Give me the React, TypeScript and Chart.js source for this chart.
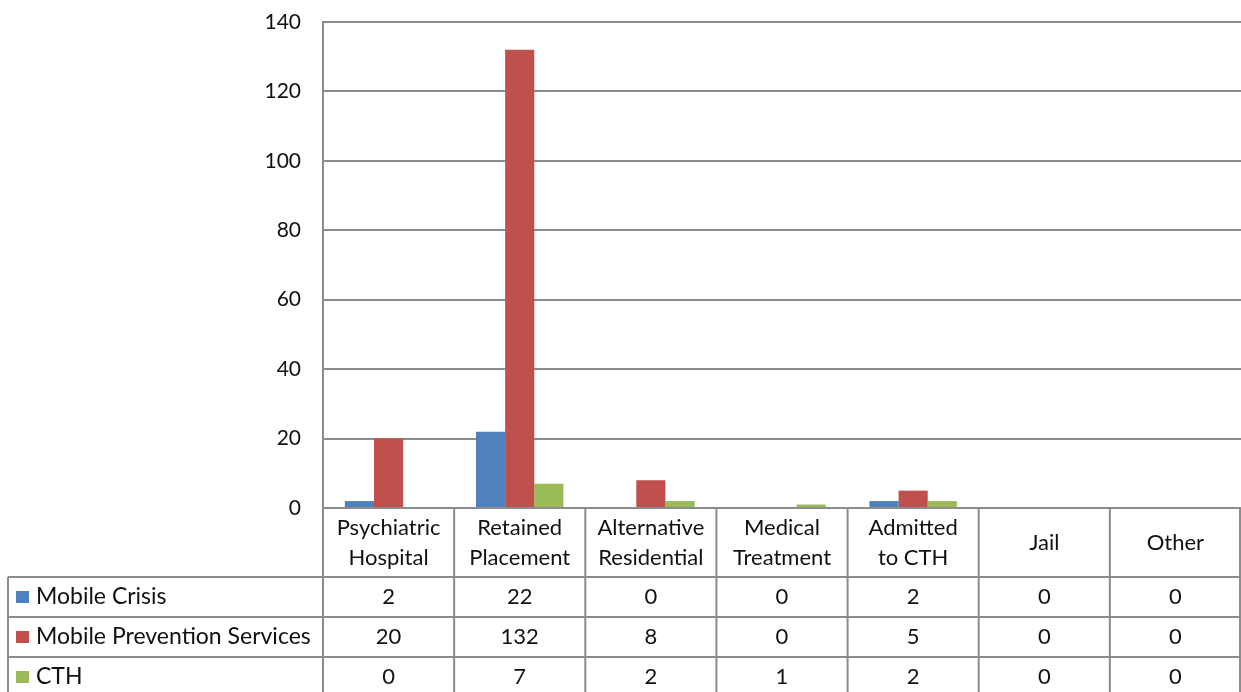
import { useEffect, useRef } from "react";
import { Chart, registerables } from "chart.js";

Chart.register(...registerables);

// Category labels (one entry per line of the header cell)
const categories: string[][] = [
  ["Psychiatric", "Hospital"],
  ["Retained", "Placement"],
  ["Alternative", "Residential"],
  ["Medical", "Treatment"],
  ["Admitted", "to CTH"],
  ["Jail"],
  ["Other"],
];

const seriesNames = ["Mobile Crisis", "Mobile Prevention Services", "CTH"];
const mobileCrisis = [2, 22, 0, 0, 2, 0, 0];
const mobilePrevention = [20, 132, 8, 0, 5, 0, 0];
const cthValues = [0, 7, 2, 1, 2, 0, 0];
const seriesColors = ["#4F81BD", "#C0504D", "#9BBB59"];

const yMax = 140;
const yStep = 20;

const FONT = "Lato, 'Open Sans', sans-serif";
const TICK_SIZE = 21;
const TABLE_SIZE = 22;
const GRID = "#8C8C8C";
const TEXT = "#111111";

const HEADER_H = 69;
const ROW_H = 40;
const LEGEND_LEFT = 8;

// Draws the data table (category header, legend keys and values) under the plot
const dataTablePlugin = {
  id: "dataTable",
  afterDraw(chart: Chart) {
    const { ctx, chartArea } = chart;
    const xScale = chart.scales.x;
    const n = categories.length;
    const left = chartArea.left;
    const right = chartArea.right;
    const top = chartArea.bottom;
    const colW = (right - left) / n;
    const headerBottom = top + HEADER_H;
    const tableBottom = headerBottom + ROW_H * seriesNames.length;

    ctx.save();
    ctx.strokeStyle = GRID;
    ctx.lineWidth = 2;

    // horizontal rules
    ctx.beginPath();
    ctx.moveTo(left, top);
    ctx.lineTo(right, top);
    ctx.moveTo(LEGEND_LEFT, headerBottom);
    ctx.lineTo(right, headerBottom);
    for (let r = 1; r <= seriesNames.length; r++) {
      const y = headerBottom + r * ROW_H;
      ctx.moveTo(LEGEND_LEFT, y);
      ctx.lineTo(right, y);
    }
    // vertical rules at category boundaries
    for (let i = 0; i <= n; i++) {
      const x = i === n ? right - 1 : left + i * colW;
      ctx.moveTo(x, top);
      ctx.lineTo(x, tableBottom);
    }
    ctx.moveTo(LEGEND_LEFT, headerBottom);
    ctx.lineTo(LEGEND_LEFT, tableBottom);
    ctx.stroke();

    ctx.fillStyle = TEXT;
    ctx.font = `${TABLE_SIZE}px ${FONT}`;
    ctx.textBaseline = "middle";
    ctx.textAlign = "center";

    // category header
    const headerMid = top + HEADER_H / 2;
    categories.forEach((lines, i) => {
      const cx = xScale.getPixelForValue(i);
      const lh = 30;
      const startY = headerMid - ((lines.length - 1) * lh) / 2;
      lines.forEach((line, k) => ctx.fillText(line, cx, startY + k * lh));
    });

    // rows: legend key, name, values
    const series = [mobileCrisis, mobilePrevention, cthValues];
    series.forEach((vals, r) => {
      const midY = headerBottom + r * ROW_H + ROW_H / 2;
      ctx.fillStyle = seriesColors[r];
      ctx.fillRect(16, midY - 6, 13, 12);
      ctx.fillStyle = TEXT;
      ctx.textAlign = "left";
      ctx.font = `${TABLE_SIZE + 1}px ${FONT}`;
      ctx.fillText(seriesNames[r], 36, midY);
      ctx.font = `${TABLE_SIZE}px ${FONT}`;
      ctx.textAlign = "center";
      vals.forEach((v, i) => {
        ctx.fillText(String(v), xScale.getPixelForValue(i), midY);
      });
    });
    ctx.restore();
  },
};

export default function App() {
  const canvasRef = useRef<HTMLCanvasElement | null>(null);

  useEffect(() => {
    document.body.style.margin = "0";
    const canvas = canvasRef.current;
    if (!canvas) return;
    const chart = new Chart(canvas, {
      type: "bar",
      data: {
        labels: categories.map((c) => c.join(" ")),
        datasets: [
          { label: seriesNames[0], data: mobileCrisis, backgroundColor: seriesColors[0] },
          { label: seriesNames[1], data: mobilePrevention, backgroundColor: seriesColors[1] },
          { label: seriesNames[2], data: cthValues, backgroundColor: seriesColors[2] },
        ],
      },
      options: {
        animation: false,
        responsive: false,
        maintainAspectRatio: false,
        layout: { padding: { top: 22, right: 0, bottom: 0, left: 0 } },
        datasets: {
          bar: { categoryPercentage: 3 / 4.5, barPercentage: 1 },
        },
        plugins: {
          legend: { display: false },
          tooltip: { enabled: false },
        },
        scales: {
          x: {
            ticks: { display: false },
            grid: { display: false, drawTicks: false },
            border: { display: false },
            afterFit(scale: any) {
              scale.height = 692 - 508;
              scale.paddingLeft = 0;
              scale.paddingRight = 0;
            },
          },
          y: {
            min: 0,
            max: yMax,
            ticks: {
              stepSize: yStep,
              color: TEXT,
              padding: 22,
              font: { family: FONT, size: TICK_SIZE },
            },
            grid: { color: GRID, lineWidth: 2, drawTicks: false },
            border: { display: true, color: GRID, width: 2 },
            afterFit(scale: any) {
              scale.width = 323;
              scale.paddingTop = 0;
              scale.paddingBottom = 0;
            },
          },
        },
      },
      plugins: [dataTablePlugin],
    });
    return () => chart.destroy();
  }, []);

  return (
    <div style={{ width: 1241, height: 692, background: "#fff" }}>
      <canvas ref={canvasRef} width={1241} height={692} />
    </div>
  );
}
